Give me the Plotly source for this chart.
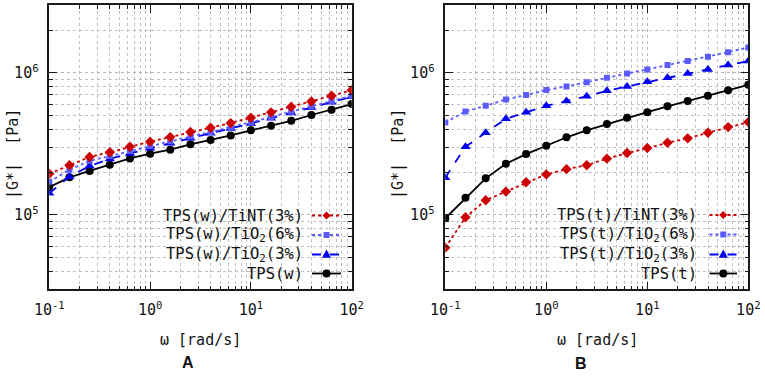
import plotly.graph_objects as go

W, H = 765, 378

# ---------------- data ----------------
omega = [0.1, 0.1585, 0.2512, 0.3981, 0.631, 1.0, 1.585, 2.512, 3.981, 6.31,
         10.0, 15.85, 25.12, 39.81, 63.1, 100.0]

# Panel A (TPS(w))
w_tint3 = [1.95e5, 2.24e5, 2.56e5, 2.76e5, 3.02e5, 3.28e5, 3.53e5, 3.83e5,
           4.11e5, 4.43e5, 4.83e5, 5.27e5, 5.77e5, 6.29e5, 6.89e5, 7.55e5]
w_tio6 = [1.71e5, 2.08e5, 2.40e5, 2.60e5, 2.82e5, 3.06e5, 3.30e5, 3.56e5,
          3.84e5, 4.13e5, 4.49e5, 4.89e5, 5.33e5, 5.82e5, 6.33e5, 6.90e5]
w_tio3 = [1.42e5, 1.86e5, 2.21e5, 2.48e5, 2.71e5, 2.95e5, 3.19e5, 3.46e5,
          3.76e5, 4.06e5, 4.40e5, 4.80e5, 5.22e5, 5.70e5, 6.22e5, 6.78e5]
w_neat = [1.57e5, 1.84e5, 2.04e5, 2.26e5, 2.50e5, 2.70e5, 2.88e5, 3.14e5,
          3.37e5, 3.63e5, 3.94e5, 4.24e5, 4.60e5, 5.05e5, 5.50e5, 6.03e5]

# Panel B (TPS(t))
t_tint3 = [5.89e4, 9.63e4, 1.27e5, 1.46e5, 1.70e5, 1.93e5, 2.10e5, 2.24e5,
           2.49e5, 2.73e5, 2.96e5, 3.22e5, 3.46e5, 3.79e5, 4.15e5, 4.50e5]
t_tio6 = [4.48e5, 5.35e5, 5.86e5, 6.50e5, 6.97e5, 7.56e5, 8.02e5, 8.60e5,
          9.23e5, 9.90e5, 1.057e6, 1.133e6, 1.209e6, 1.295e6, 1.397e6, 1.508e6]
t_tio3 = [1.83e5, 3.02e5, 3.79e5, 4.75e5, 5.27e5, 5.86e5, 6.33e5, 6.83e5,
          7.48e5, 8.02e5, 8.65e5, 9.23e5, 9.90e5, 1.057e6, 1.133e6, 1.209e6]
t_neat = [9.48e4, 1.32e5, 1.81e5, 2.29e5, 2.68e5, 3.07e5, 3.52e5, 3.94e5,
          4.36e5, 4.83e5, 5.29e5, 5.81e5, 6.33e5, 6.89e5, 7.55e5, 8.24e5]

names_A = ["TPS(w)/TiNT(3%)", "TPS(w)/TiO<sub>2</sub>(6%)",
           "TPS(w)/TiO<sub>2</sub>(3%)", "TPS(w)"]
names_B = ["TPS(t)/TiNT(3%)", "TPS(t)/TiO<sub>2</sub>(6%)",
           "TPS(t)/TiO<sub>2</sub>(3%)", "TPS(t)"]

x_tickvals = [0.1, 1, 10, 100]
x_ticktext = ["10<sup>-1</sup>", "10<sup>0</sup>", "10<sup>1</sup>", "10<sup>2</sup>"]
y_tickvals = [1e5, 1e6]
y_ticktext = ["10<sup>5</sup>", "10<sup>6</sup>"]

x_title = "ω [rad/s]"
y_title = "|G*|  [Pa]"

# ---------------- styles ----------------
RED = "#cc0000"
LBLUE = "#5a5aff"
BLUE = "#0000ee"
BLACK = "#000000"
styles = [
    dict(color=RED, dash="dot", symbol="diamond", size=8),
    dict(color=LBLUE, dash="dot", symbol="square", size=6),
    dict(color=BLUE, dash="dash", symbol="triangle-up", size=9),
    dict(color=BLACK, dash="solid", symbol="circle", size=8),
]
MONO = "DejaVu Sans Mono"

fig = go.Figure()
for series, names, xa, ya in [
    ([w_tint3, w_tio6, w_tio3, w_neat], names_A, "x", "y"),
    ([t_tint3, t_tio6, t_tio3, t_neat], names_B, "x2", "y2"),
]:
    for idx in [3, 2, 1, 0]:
        st = styles[idx]
        fig.add_trace(go.Scatter(
            x=omega, y=series[idx], xaxis=xa, yaxis=ya, name=names[idx],
            mode="lines+markers", showlegend=False,
            line=dict(color=st["color"], dash=st["dash"], width=1.8),
            marker=dict(symbol=st["symbol"], size=st["size"], color=st["color"],
                        line=dict(width=0)),
        ))

# ---------------- axes ----------------
def px2x(p):
    return p / W

def py2y(p):
    return 1 - p / H

dom_y = [py2y(289.3), py2y(5)]
dom_xA = [px2x(49.3), px2x(351.7)]
dom_xB = [px2x(445.3), px2x(748.3)]

x_minor = [m * 10 ** e for e in (-1, 0, 1) for m in range(2, 10)]
y_minor = [m * 10 ** e for e in (4, 5, 6) for m in range(2, 10)]

common = dict(
    type="log", showline=True, linecolor="#1a1a1a", linewidth=1.6,
    mirror="allticks", ticks="inside", ticklen=8, tickwidth=1.4,
    tickcolor="#1a1a1a", showgrid=True, gridcolor="#b5b5b5", griddash="dot",
    gridwidth=1, zeroline=False, automargin=False,
    tickfont=dict(family=MONO, size=15, color="#111"),
    ticklabelstandoff=6,
)

def xaxis(dom, anchor):
    return dict(common, domain=dom, anchor=anchor, range=[-1, 2],
                tickmode="array", tickvals=x_tickvals, ticktext=x_ticktext,
                minor=dict(tickvals=x_minor, ticks="inside", ticklen=4,
                           tickwidth=1.2, tickcolor="#1a1a1a", showgrid=True,
                           gridcolor="#c0c0c0", griddash="dot", gridwidth=1))

def yaxis(anchor):
    return dict(common, domain=dom_y, anchor=anchor,
                range=[4.4771, 6.4771],
                tickmode="array", tickvals=y_tickvals, ticktext=y_ticktext,
                minor=dict(tickvals=y_minor, ticks="inside", ticklen=4,
                           tickwidth=1.2, tickcolor="#1a1a1a", showgrid=True,
                           gridcolor="#c0c0c0", griddash="dot", gridwidth=1))

annotations = []
shapes = []

def ann(text, x, y, size, family=MONO, angle=0, xanchor="center"):
    return dict(text=text, x=px2x(x), y=py2y(y), xref="paper", yref="paper",
                xanchor=xanchor, yanchor="middle", showarrow=False,
                textangle=angle, font=dict(family=family, size=size, color="#111"))

for cx, ycx, letter, lx, ly in [(200, 13, "A", 188, 362), (597, 398, "B", 581, 363)]:
    annotations.append(ann(x_title, cx, 340, 15))
    annotations.append(ann(y_title, ycx, 154, 15, angle=-90))
    annotations.append(ann("<b>" + letter + "</b>", lx, ly, 16, family="Liberation Sans"))

def key_marker(sym, cx, cy, color, s):
    if sym == "diamond":
        pts = [(cx, cy - s), (cx + s, cy), (cx, cy + s), (cx - s, cy)]
    elif sym == "square":
        pts = [(cx - s, cy - s), (cx + s, cy - s), (cx + s, cy + s), (cx - s, cy + s)]
    elif sym == "triangle-up":
        pts = [(cx, cy - s * 1.1), (cx + s, cy + s * 0.7), (cx - s, cy + s * 0.7)]
    else:
        return dict(type="circle", xref="paper", yref="paper",
                    x0=px2x(cx - s), x1=px2x(cx + s), y0=py2y(cy + s), y1=py2y(cy - s),
                    fillcolor=color, line=dict(width=0))
    path = "M " + " L ".join(f"{px2x(a):.5f},{py2y(b):.5f}" for a, b in pts) + " Z"
    return dict(type="path", xref="paper", yref="paper", path=path,
                fillcolor=color, line=dict(width=0))

ms = [4, 3, 4.5, 4]
for names, text_r, k0, k1, rows in [
    (names_A, 305, 312, 341, [215.5, 235, 254.5, 273.5]),
    (names_B, 698.5, 709.5, 737, [215, 234.5, 254.5, 273.5]),
]:
    for i, (nm, ry) in enumerate(zip(names, rows)):
        st = styles[i]
        annotations.append(ann(nm, text_r, ry, 15.5, xanchor="right"))
        shapes.append(dict(type="line", xref="paper", yref="paper",
                           x0=px2x(k0), x1=px2x(k1), y0=py2y(ry), y1=py2y(ry),
                           line=dict(color=st["color"], dash=st["dash"], width=1.8)))
        shapes.append(key_marker(st["symbol"], (k0 + k1) / 2, ry, st["color"], ms[i]))

fig.update_layout(
    width=W, height=H, margin=dict(l=0, r=0, t=0, b=0),
    paper_bgcolor="white", plot_bgcolor="white", showlegend=False,
    xaxis=xaxis(dom_xA, "y"), yaxis=yaxis("x"),
    xaxis2=xaxis(dom_xB, "y2"), yaxis2=yaxis("x2"),
    annotations=annotations, shapes=shapes,
)

fig.write_html(
    "out.html",
    config={"displayModeBar": False},
    post_script="document.body.style.margin='0';document.body.style.overflow='hidden';",
)
